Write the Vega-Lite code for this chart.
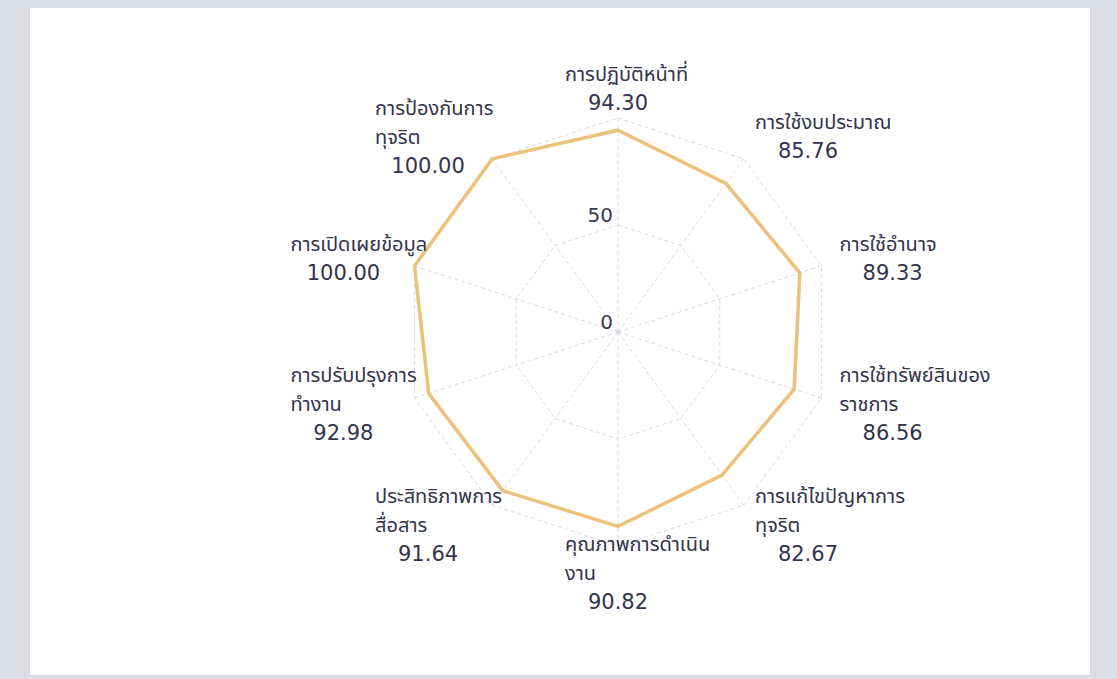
{
  "$schema": "https://vega.github.io/schema/vega-lite/v6.json",
  "autosize": {"type": "none"},
  "width": 1060,
  "height": 667,
  "padding": {"left": 30, "top": 8, "right": 27, "bottom": 4},
  "background": "#dcdce6",
  "config": {"view": {"fill": "white", "stroke": null}},
  "data": {
    "values": [
      {"idx": 0, "name": "การปฏิบัติหน้าที่", "value": 94.30},
      {"idx": 1, "name": "การใช้งบประมาณ", "value": 85.76},
      {"idx": 2, "name": "การใช้อำนาจ", "value": 89.33},
      {"idx": 3, "name": "การใช้ทรัพย์สินของ|ราชการ", "value": 86.56},
      {"idx": 4, "name": "การแก้ไขปัญหาการ|ทุจริต", "value": 82.67},
      {"idx": 5, "name": "คุณภาพการดำเนิน|งาน", "value": 90.82},
      {"idx": 6, "name": "ประสิทธิภาพการ|สื่อสาร", "value": 91.64},
      {"idx": 7, "name": "การปรับปรุงการ|ทำงาน", "value": 92.98},
      {"idx": 8, "name": "การเปิดเผยข้อมูล", "value": 100.00},
      {"idx": 9, "name": "การป้องกันการ|ทุจริต", "value": 100.00}
    ]
  },
  "transform": [
    {"calculate": "datum.idx*PI/5", "as": "a"},
    {"calculate": "sin(datum.a)", "as": "s"},
    {"calculate": "cos(datum.a)", "as": "c"},
    {"calculate": "datum.value*datum.s", "as": "x"},
    {"calculate": "datum.value*datum.c", "as": "y"},
    {"calculate": "100*datum.s", "as": "x100"},
    {"calculate": "100*datum.c", "as": "y100"},
    {"calculate": "length(split(datum.name,'|'))", "as": "n"},
    {"calculate": "(datum.s>0.1 ? 233*datum.s : datum.s<-0.1 ? 233*datum.s-106 : -53)/2.14", "as": "bx"},
    {"calculate": "datum.bx + 53/2.14", "as": "vx"},
    {"calculate": "(233+9*abs(datum.c))*datum.c/2.14", "as": "ay"},
    {"calculate": "datum.ay + datum.n*14.5/2.14", "as": "ny"},
    {"calculate": "datum.ay - datum.n*14.5/2.14", "as": "vy"}
  ],
  "layer": [
    {
      "transform": [
        {"calculate": "50", "as": "l50"},
        {"calculate": "100", "as": "l100"},
        {"fold": ["l50", "l100"], "as": ["level", "r"]},
        {"calculate": "datum.r*datum.s", "as": "gx"},
        {"calculate": "datum.r*datum.c", "as": "gy"}
      ],
      "mark": {"type": "line", "interpolate": "linear-closed", "stroke": "#d8d8ea", "strokeWidth": 1, "strokeDash": [4, 3]},
      "encoding": {
        "x": {"field": "gx", "type": "quantitative", "scale": {"domain": [-274.77, 220.56], "nice": false, "zero": false}, "axis": null},
        "y": {"field": "gy", "type": "quantitative", "scale": {"domain": [-160.28, 151.40], "nice": false, "zero": false}, "axis": null},
        "detail": {"field": "level", "type": "nominal"},
        "order": {"field": "idx", "type": "quantitative"}
      }
    },
    {
      "mark": {"type": "rule", "stroke": "#d8d8ea", "strokeWidth": 1, "strokeDash": [4, 3]},
      "encoding": {
        "x": {"field": "x100", "type": "quantitative", "scale": {"domain": [-274.77, 220.56], "nice": false, "zero": false}, "axis": null},
        "y": {"field": "y100", "type": "quantitative", "scale": {"domain": [-160.28, 151.40], "nice": false, "zero": false}, "axis": null},
        "x2": {"datum": 0},
        "y2": {"datum": 0}
      }
    },
    {
      "mark": {"type": "line", "interpolate": "linear-closed", "stroke": "#ebc27c", "strokeWidth": 3.5, "strokeJoin": "miter"},
      "encoding": {
        "x": {"field": "x", "type": "quantitative", "scale": {"domain": [-274.77, 220.56], "nice": false, "zero": false}, "axis": null},
        "y": {"field": "y", "type": "quantitative", "scale": {"domain": [-160.28, 151.40], "nice": false, "zero": false}, "axis": null},
        "order": {"field": "idx", "type": "quantitative"}
      }
    },
    {
      "data": {"values": [{"t": 0}, {"t": 50}]},
      "transform": [],
      "mark": {"type": "text", "align": "right", "baseline": "bottom", "dx": -5, "dy": 1, "fontSize": 20, "font": "DejaVu Sans", "fill": "#3a3a52"},
      "encoding": {
        "x": {"datum": 0, "type": "quantitative", "scale": {"domain": [-274.77, 220.56], "nice": false, "zero": false}, "axis": null},
        "y": {"field": "t", "type": "quantitative", "scale": {"domain": [-160.28, 151.40], "nice": false, "zero": false}, "axis": null},
        "text": {"field": "t", "type": "quantitative"}
      }
    },
    {
      "mark": {"type": "text", "align": "left", "baseline": "middle", "lineBreak": "|", "lineHeight": 29, "fontSize": 20, "font": "Noto Sans Thai, Noto Sans", "fill": "#33334d"},
      "encoding": {
        "x": {"field": "bx", "type": "quantitative", "scale": {"domain": [-274.77, 220.56], "nice": false, "zero": false}, "axis": null},
        "y": {"field": "ny", "type": "quantitative", "scale": {"domain": [-160.28, 151.40], "nice": false, "zero": false}, "axis": null},
        "text": {"field": "name", "type": "nominal"}
      }
    },
    {
      "mark": {"type": "text", "align": "center", "baseline": "middle", "fontSize": 21, "font": "DejaVu Sans", "fill": "#33334d"},
      "encoding": {
        "x": {"field": "vx", "type": "quantitative", "scale": {"domain": [-274.77, 220.56], "nice": false, "zero": false}, "axis": null},
        "y": {"field": "vy", "type": "quantitative", "scale": {"domain": [-160.28, 151.40], "nice": false, "zero": false}, "axis": null},
        "text": {"field": "value", "type": "quantitative", "format": ".2f"}
      }
    }
  ]
}
